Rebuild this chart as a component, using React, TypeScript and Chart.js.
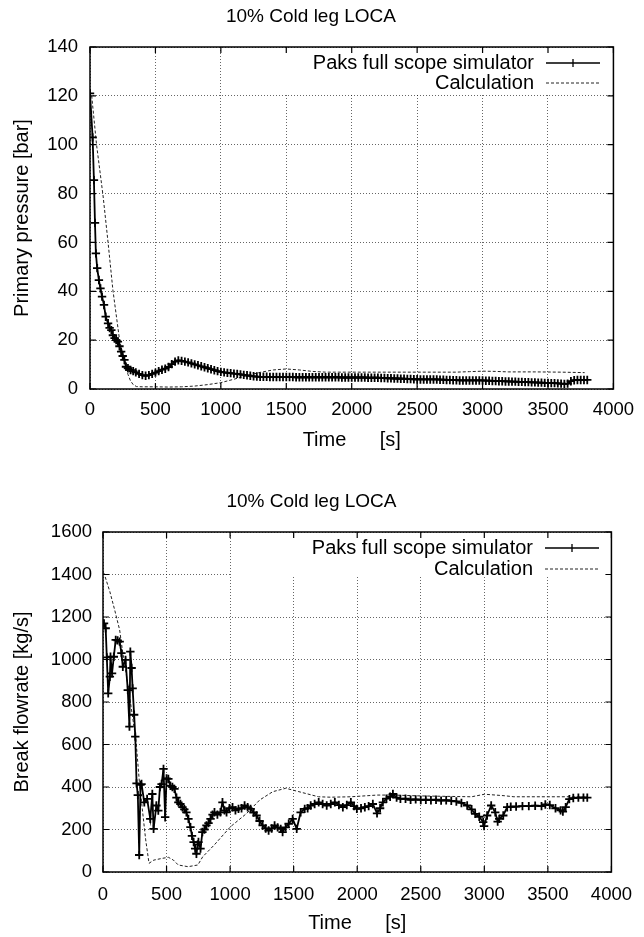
import React, { useEffect, useRef } from 'react';
import { Chart, registerables } from 'chart.js';

Chart.register(...registerables);

const FONT = "'Liberation Sans', Arial, Helvetica, sans-serif";
const CHART_TITLE = '10% Cold leg LOCA';
const X_TITLE = 'Time      [s]';
const PRESSURE_Y_TITLE = 'Primary pressure [bar]';
const FLOW_Y_TITLE = 'Break flowrate [kg/s]';
const LEGEND_SIM = 'Paks full scope simulator';
const LEGEND_CALC = 'Calculation';

// ---------- Top chart: primary pressure [bar], [time s, value] ----------
const pressureSim: [number, number][] = [
  [0, 121], [20, 103], [30, 85.5], [38, 68], [45, 55.5], [55, 49.5], [68, 44.6], [80, 41.2], [92, 37.8],
  [107, 34.4], [120, 29.6], [138, 26.9], [150, 25], [163, 24.1], [175, 22], [188, 20.8], [200, 20],
  [213, 19.4], [225, 17.5], [238, 15.3], [250, 13.5], [263, 11.9], [275, 9.1], [290, 8.5], [310, 7.8],
  [330, 7.3], [350, 6.8], [375, 6.2], [400, 5.7], [425, 5.4], [450, 5.7], [475, 6.2], [500, 6.7],
  [525, 7.3], [550, 7.9], [575, 8.3], [600, 9.0], [625, 10.2], [650, 11.2], [675, 11.7], [700, 11.5],
  [725, 11.2], [750, 10.9], [775, 10.5], [800, 10.1], [825, 9.7], [850, 9.3], [875, 8.9], [900, 8.5],
  [925, 8.1], [950, 7.7], [975, 7.3], [1000, 7.0], [1025, 6.8], [1050, 6.6], [1075, 6.5], [1100, 6.3],
  [1125, 6.2], [1150, 6.0], [1175, 5.8], [1200, 5.6], [1225, 5.4], [1250, 5.2], [1275, 5.1], [1300, 5.0],
  [1325, 5.0], [1350, 5.0], [1375, 4.9], [1400, 4.9], [1425, 4.9], [1450, 4.9], [1475, 4.9], [1500, 4.9],
  [1525, 4.9], [1550, 4.9], [1575, 4.8], [1600, 4.8], [1625, 4.8], [1650, 4.8], [1675, 4.8], [1700, 4.8],
  [1725, 4.8], [1750, 4.8], [1775, 4.8], [1800, 4.8], [1825, 4.8], [1850, 4.8], [1875, 4.8], [1900, 4.8],
  [1925, 4.7], [1950, 4.7], [1975, 4.7], [2000, 4.7], [2025, 4.7], [2050, 4.7], [2075, 4.7], [2100, 4.7],
  [2125, 4.6], [2150, 4.6], [2175, 4.6], [2200, 4.6], [2225, 4.5], [2250, 4.5], [2275, 4.4], [2300, 4.4],
  [2325, 4.3], [2350, 4.3], [2375, 4.2], [2400, 4.2], [2425, 4.1], [2450, 4.1], [2475, 4.0], [2500, 4.0],
  [2525, 3.9], [2550, 3.9], [2575, 3.9], [2600, 3.9], [2625, 3.9], [2650, 3.9], [2675, 3.8], [2700, 3.8],
  [2725, 3.7], [2750, 3.7], [2775, 3.6], [2800, 3.6], [2825, 3.5], [2850, 3.5], [2875, 3.5], [2900, 3.5],
  [2925, 3.5], [2950, 3.5], [2975, 3.5], [3000, 3.5], [3025, 3.4], [3050, 3.4], [3075, 3.3], [3100, 3.3],
  [3125, 3.2], [3150, 3.2], [3175, 3.1], [3200, 3.1], [3225, 3.0], [3250, 3.0], [3275, 2.9], [3300, 2.9],
  [3325, 2.8], [3350, 2.8], [3375, 2.7], [3400, 2.7], [3425, 2.6], [3450, 2.6], [3475, 2.5], [3500, 2.5],
  [3525, 2.4], [3550, 2.4], [3575, 2.3], [3600, 2.2], [3625, 2.1], [3650, 2.2], [3675, 3.2], [3700, 3.6],
  [3725, 3.7], [3750, 3.7], [3775, 3.7], [3800, 3.7],
];
const pressureCalc: [number, number][] = [
  [0, 122], [13, 120], [50, 100], [100, 79], [138, 60], [175, 40.5], [226, 20], [263, 11.6], [290, 6],
  [309, 3.4], [330, 1.8], [355, 1], [400, 0.9], [500, 0.9], [600, 0.8], [700, 0.9], [800, 1.2], [900, 1.8],
  [1000, 2.6], [1100, 4], [1200, 5.5], [1300, 6.8], [1400, 7.8], [1500, 8.2], [1600, 7.8], [1700, 7.2],
  [1800, 6.9], [2000, 6.9], [2200, 6.9], [2400, 6.9], [2600, 6.9], [2800, 6.9], [2900, 7.1], [3000, 7.3],
  [3100, 7.2], [3200, 7.0], [3400, 7.0], [3600, 6.9], [3780, 6.7],
];

// ---------- Bottom chart: break flowrate [kg/s], [time s, value] ----------
const flowSim: [number, number][] = [
  [8, 1170], [21, 1147], [30, 1010], [41, 841], [54, 919], [59, 1013], [71, 935], [85, 1013], [100, 1092],
  [115, 1090], [131, 1084], [145, 1030], [156, 966], [177, 998], [195, 856], [208, 684], [215, 1037],
  [225, 960], [233, 864], [245, 740], [254, 637], [264, 417], [274, 362], [285, 80], [295, 410], [303, 414],
  [325, 328], [347, 344], [372, 250], [388, 367], [398, 203], [420, 313], [435, 289], [448, 400], [461, 414],
  [476, 485], [489, 258], [500, 440], [514, 438], [530, 406], [546, 400], [562, 391], [578, 350], [593, 328],
  [609, 320], [625, 305], [640, 295], [656, 281], [672, 250], [688, 211], [700, 170], [713, 141], [725, 110],
  [735, 86], [745, 130], [751, 141], [767, 110], [782, 188], [798, 200], [814, 219], [830, 230], [846, 250],
  [862, 270], [877, 281], [900, 270], [924, 281], [940, 328], [956, 290], [972, 281], [995, 300], [1019, 305],
  [1042, 290], [1066, 297], [1090, 300], [1114, 313], [1138, 305], [1161, 297], [1185, 280], [1208, 266],
  [1232, 240], [1256, 219], [1280, 205], [1303, 195], [1327, 205], [1350, 219], [1374, 210], [1398, 203],
  [1413, 188], [1437, 210], [1461, 227], [1492, 250], [1524, 203], [1555, 281], [1587, 297], [1610, 300],
  [1634, 313], [1665, 320], [1697, 328], [1728, 320], [1760, 313], [1792, 320], [1824, 328], [1856, 315],
  [1887, 305], [1918, 315], [1950, 328], [1975, 310], [1997, 297], [2030, 300], [2060, 305], [2090, 310],
  [2123, 320], [2156, 276], [2180, 300], [2202, 328], [2230, 345], [2259, 354], [2281, 367], [2310, 350],
  [2340, 344], [2380, 345], [2420, 340], [2460, 342], [2500, 339], [2540, 340], [2580, 338], [2620, 340],
  [2660, 336], [2700, 338], [2740, 335], [2780, 332], [2820, 325], [2865, 313], [2900, 295], [2928, 274],
  [2960, 260], [2991, 235], [2998, 216], [3022, 266], [3054, 313], [3086, 281], [3105, 237], [3117, 250],
  [3149, 266], [3180, 305], [3208, 307], [3250, 308], [3300, 310], [3350, 310], [3400, 312], [3450, 310],
  [3480, 318], [3515, 315], [3560, 300], [3600, 290], [3618, 284], [3640, 305], [3669, 343], [3700, 348],
  [3740, 350], [3780, 350], [3810, 350],
];
const flowCalc: [number, number][] = [
  [0, 1408], [8, 1406], [54, 1319], [92, 1233], [131, 1139], [156, 1029], [182, 935], [221, 778], [259, 621],
  [285, 433], [310, 292], [336, 151], [362, 41], [400, 56], [464, 64], [515, 69], [554, 56], [592, 33],
  [669, 25], [746, 33], [785, 72], [875, 127], [1003, 213], [1131, 276], [1233, 339], [1336, 378], [1438, 394],
  [1541, 378], [1695, 354], [1792, 352], [1951, 354], [2156, 362], [2285, 362], [2500, 358], [2700, 356],
  [2900, 354], [3002, 366], [3156, 359], [3233, 354], [3400, 354], [3669, 354], [3810, 352],
];

const X_MIN = 0;
const X_MAX = 4000;
const X_STEP = 500;

const toXY = (pts: [number, number][]) => pts.map(([x, y]) => ({ x, y }));

type PanelSpec = {
  width: number;
  height: number;
  sim: [number, number][];
  calc: [number, number][];
  yMax: number;
  yStep: number;
  yTitle: string;
  yWidth: number;
  xHeight: number;
  padRight: number;
  titlePadTop: number;
  titlePadBottom: number;
  yTickPad: number;
  xTickPad: number;
  xTitlePadBottom: number;
  yTitlePadTop: number;
  legendTextX: number;
  legendY1: number;
  legendY2: number;
  legendLineX1: number;
  legendLineX2: number;
  clear: { x1: number; y1: number; x2: number; y2: number };
};

function makeDecor(spec: PanelSpec) {
  return {
    id: 'gnuplotDecor',
    beforeDatasetsDraw(chart: any) {
      const ctx = chart.ctx as CanvasRenderingContext2D;
      const c = spec.clear;
      ctx.save();
      ctx.fillStyle = '#ffffff';
      ctx.fillRect(c.x1, c.y1, c.x2 - c.x1, c.y2 - c.y1);
      ctx.restore();
    },
    afterDraw(chart: any) {
      const ctx = chart.ctx as CanvasRenderingContext2D;
      const { left, right, top, bottom } = chart.chartArea;
      const xs = chart.scales.x;
      const ys = chart.scales.y;
      ctx.save();
      ctx.strokeStyle = '#000';
      ctx.lineWidth = 1.5;
      ctx.setLineDash([]);
      ctx.strokeRect(left, top, right - left, bottom - top);
      ctx.lineWidth = 1.2;
      const tl = 6;
      ctx.beginPath();
      xs.ticks.forEach((tk: any) => {
        const px = xs.getPixelForValue(tk.value);
        ctx.moveTo(px, bottom);
        ctx.lineTo(px, bottom - tl);
        ctx.moveTo(px, top);
        ctx.lineTo(px, top + tl);
      });
      ys.ticks.forEach((tk: any) => {
        const py = ys.getPixelForValue(tk.value);
        ctx.moveTo(left, py);
        ctx.lineTo(left + tl, py);
        ctx.moveTo(right, py);
        ctx.lineTo(right - tl, py);
      });
      ctx.stroke();
      ctx.font = `20px ${FONT}`;
      ctx.fillStyle = '#000';
      ctx.textAlign = 'right';
      ctx.textBaseline = 'middle';
      ctx.fillText(LEGEND_SIM, spec.legendTextX, spec.legendY1);
      ctx.fillText(LEGEND_CALC, spec.legendTextX, spec.legendY2);
      ctx.lineWidth = 1.3;
      ctx.beginPath();
      ctx.moveTo(spec.legendLineX1, spec.legendY1);
      ctx.lineTo(spec.legendLineX2, spec.legendY1);
      const mx = (spec.legendLineX1 + spec.legendLineX2) / 2;
      ctx.moveTo(mx, spec.legendY1 - 4);
      ctx.lineTo(mx, spec.legendY1 + 4);
      ctx.stroke();
      ctx.lineWidth = 1;
      ctx.strokeStyle = '#222';
      ctx.setLineDash([3, 2]);
      ctx.beginPath();
      ctx.moveTo(spec.legendLineX1, spec.legendY2);
      ctx.lineTo(spec.legendLineX2, spec.legendY2);
      ctx.stroke();
      ctx.restore();
    },
  };
}

const plainTick = (v: any) => `${v}`;

function buildConfig(spec: PanelSpec): any {
  return {
    type: 'scatter',
    data: {
      datasets: [
        {
          label: LEGEND_SIM,
          data: toXY(spec.sim),
          showLine: true,
          borderColor: '#000',
          backgroundColor: '#000',
          borderWidth: 1.8,
          pointStyle: 'cross',
          pointRadius: 4.2,
          pointBorderWidth: 1.8,
          pointHoverRadius: 4.2,
          tension: 0,
        },
        {
          label: LEGEND_CALC,
          data: toXY(spec.calc),
          showLine: true,
          borderColor: '#222',
          backgroundColor: '#222',
          borderWidth: 1,
          borderDash: [3, 2],
          pointRadius: 0,
          pointHoverRadius: 0,
          tension: 0,
        },
      ],
    },
    options: {
      responsive: false,
      maintainAspectRatio: false,
      animation: false,
      devicePixelRatio: 1,
      events: [],
      layout: { padding: { left: 0, top: 0, right: spec.padRight, bottom: 0 } },
      plugins: {
        legend: { display: false },
        tooltip: { enabled: false },
        title: {
          display: true,
          text: CHART_TITLE,
          color: '#000',
          font: { family: FONT, size: 19, weight: 'normal', lineHeight: 1.2 },
          padding: { top: spec.titlePadTop, bottom: spec.titlePadBottom },
        },
      },
      scales: {
        x: {
          type: 'linear',
          min: X_MIN,
          max: X_MAX,
          afterFit: (s: any) => {
            s.height = spec.xHeight;
          },
          ticks: {
            stepSize: X_STEP,
            color: '#000',
            padding: spec.xTickPad,
            maxRotation: 0,
            callback: plainTick,
            font: { family: FONT, size: 18.5, lineHeight: 1.2 },
          },
          grid: { color: 'rgba(0,0,0,0.6)', lineWidth: 1, drawTicks: false },
          border: { display: false, dash: [1, 2] },
          title: {
            display: true,
            text: X_TITLE,
            color: '#000',
            font: { family: FONT, size: 20, lineHeight: 1.2 },
            padding: { top: 0, bottom: spec.xTitlePadBottom },
          },
        },
        y: {
          type: 'linear',
          min: 0,
          max: spec.yMax,
          afterFit: (s: any) => {
            s.width = spec.yWidth;
          },
          ticks: {
            stepSize: spec.yStep,
            color: '#000',
            padding: spec.yTickPad,
            callback: plainTick,
            font: { family: FONT, size: 18.5, lineHeight: 1.2 },
          },
          grid: { color: 'rgba(0,0,0,0.6)', lineWidth: 1, drawTicks: false },
          border: { display: false, dash: [1, 2] },
          title: {
            display: true,
            text: spec.yTitle,
            color: '#000',
            font: { family: FONT, size: 20, lineHeight: 1.2 },
            padding: { top: spec.yTitlePadTop, bottom: 0 },
          },
        },
      },
    },
    plugins: [makeDecor(spec)],
  };
}

const pressureSpec: PanelSpec = {
  width: 644,
  height: 468,
  sim: pressureSim,
  calc: pressureCalc,
  yMax: 140,
  yStep: 20,
  yTitle: PRESSURE_Y_TITLE,
  yWidth: 90,
  xHeight: 79,
  padRight: 22,
  titlePadTop: 5.6,
  titlePadBottom: 18.6,
  yTickPad: 12,
  xTickPad: 10,
  xTitlePadBottom: 16,
  yTitlePadTop: 10,
  legendTextX: 534,
  legendY1: 63,
  legendY2: 83,
  legendLineX1: 546,
  legendLineX2: 600,
  clear: { x1: 250, y1: 48, x2: 621, y2: 94 },
};

const flowSpec: PanelSpec = {
  width: 644,
  height: 469,
  sim: flowSim,
  calc: flowCalc,
  yMax: 1600,
  yStep: 200,
  yTitle: FLOW_Y_TITLE,
  yWidth: 103,
  xHeight: 65,
  padRight: 21,
  titlePadTop: 22.6,
  titlePadBottom: 18.6,
  yTickPad: 11,
  xTickPad: 12,
  xTitlePadBottom: 2,
  yTitlePadTop: 10,
  legendTextX: 533,
  legendY1: 80,
  legendY2: 101,
  legendLineX1: 545,
  legendLineX2: 599,
  clear: { x1: 231, y1: 65, x2: 611, y2: 109 },
};

function Panel({ spec, top }: { spec: PanelSpec; top: number }) {
  const ref = useRef<HTMLCanvasElement | null>(null);
  useEffect(() => {
    if (!ref.current) return;
    const chart = new Chart(ref.current, buildConfig(spec));
    return () => chart.destroy();
  }, [spec]);
  return (
    <canvas
      ref={ref}
      width={spec.width}
      height={spec.height}
      style={{ position: 'absolute', left: 0, top, width: spec.width, height: spec.height, display: 'block' }}
    />
  );
}

export default function App() {
  return (
    <div style={{ position: 'absolute', left: 0, top: 0, width: 644, height: 937, background: '#fff', overflow: 'hidden' }}>
      <Panel spec={pressureSpec} top={0} />
      <Panel spec={flowSpec} top={468} />
    </div>
  );
}
